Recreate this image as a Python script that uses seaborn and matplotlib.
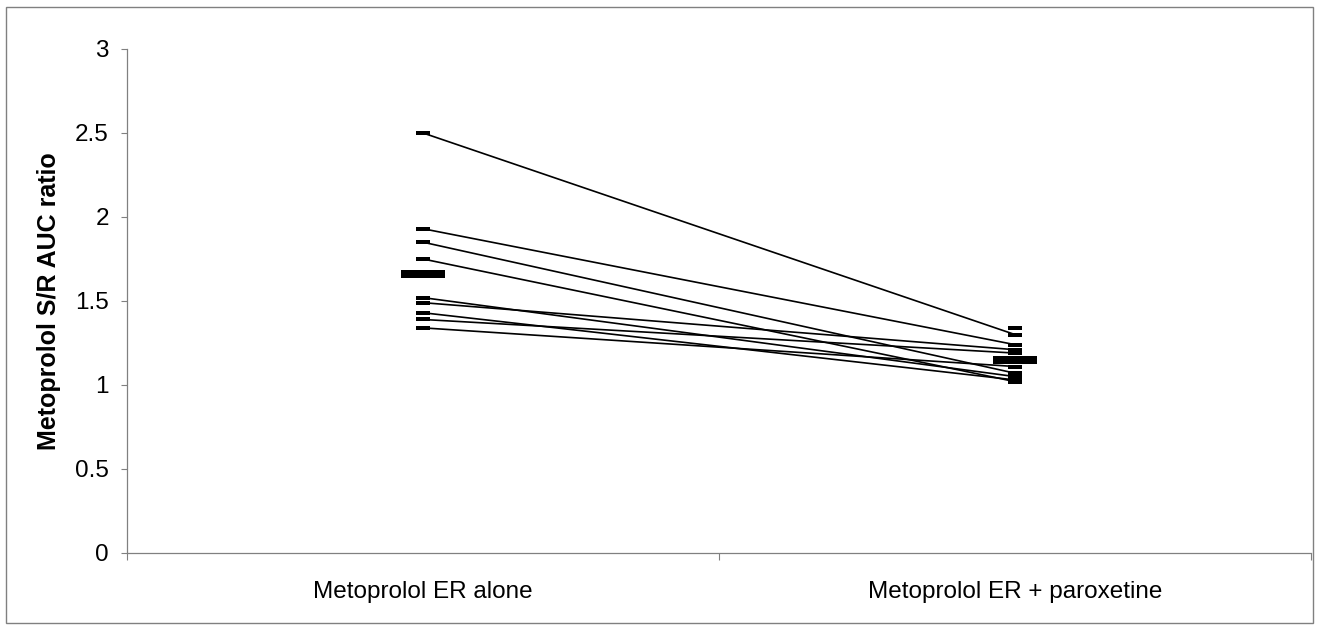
import numpy as np
import pandas as pd
import seaborn as sns
import matplotlib.pyplot as plt
from matplotlib.patches import Rectangle

# Values
groups = ["Metoprolol ER alone", "Metoprolol ER + paroxetine"]
alone = [2.50, 1.93, 1.85, 1.75, 1.52, 1.49, 1.43, 1.39, 1.34, np.nan]
paroxetine = [1.30, 1.24, 1.07, 1.02, 1.05, 1.21, 1.03, 1.19, 1.11, 1.34]
group_means = [1.66, 1.15]
y_ticks = [0, 0.5, 1, 1.5, 2, 2.5, 3]
y_tick_labels = ["0", "0.5", "1", "1.5", "2", "2.5", "3"]


def build_frame():
    n = len(alone)
    df = pd.DataFrame(
        {
            "subject": list(range(n)) * 2,
            "pos": [0] * n + [1] * n,
            "ratio": alone + paroxetine,
        }
    )
    return df.dropna()


def main():
    df = build_frame()
    means = pd.DataFrame({"pos": [0, 1], "ratio": group_means})

    sns.set_style("white")
    plt.rcParams["font.family"] = ["Liberation Sans", "DejaVu Sans"]
    plt.rcParams["text.color"] = "black"
    plt.rcParams["axes.labelcolor"] = "black"
    plt.rcParams["xtick.labelcolor"] = "black"
    plt.rcParams["ytick.labelcolor"] = "black"

    fig = plt.figure(figsize=(13.19, 6.33), dpi=100)
    ax = fig.add_axes([0.0963, 0.1264, 0.8977, 0.7962])

    # paired subject lines
    sns.lineplot(
        data=df, x="pos", y="ratio", units="subject", estimator=None,
        color="black", linewidth=1.2, ax=ax, zorder=2,
    )

    # individual values: small horizontal bars
    small = [(-6.5, -2), (6.5, -2), (6.5, 2), (-6.5, 2)]
    sns.scatterplot(
        data=df, x="pos", y="ratio", marker=small, s=9.4 ** 2,
        color="black", linewidth=0, ax=ax, zorder=3,
    )

    # group means: wide thick bars
    big = [(-22, -4), (22, -4), (22, 4), (-22, 4)]
    sns.scatterplot(
        data=means, x="pos", y="ratio", marker=big, s=31.7 ** 2,
        color="black", linewidth=0, ax=ax, zorder=4,
    )

    ax.set_xlim(-0.5, 1.5)
    ax.set_ylim(0, 3)
    ax.set_yticks(y_ticks)
    ax.set_yticklabels(y_tick_labels, fontsize=17.5)
    ax.set_xticks([-0.5, 0.5, 1.5])
    ax.set_xticklabels([])
    ax.set_xticks([0, 1], minor=True)
    ax.set_xticklabels(groups, minor=True, fontsize=17.5)
    ax.tick_params(axis="x", which="minor", length=0, pad=20)
    ax.tick_params(axis="x", which="major", direction="out", length=5,
                   width=0.8, color="#808080", bottom=True)
    ax.tick_params(axis="y", direction="out", length=4, width=0.8,
                   color="#808080", left=True, pad=9)

    ax.set_xlabel("")
    ax.set_ylabel("Metoprolol S/R AUC ratio", fontsize=18,
                  fontweight="bold", labelpad=10)

    for side in ["top", "right"]:
        ax.spines[side].set_visible(False)
    for side in ["left", "bottom"]:
        ax.spines[side].set_color("#808080")
        ax.spines[side].set_linewidth(0.9)

    # outer chart frame
    fig.patches.append(Rectangle(
        (6 / 1319, 10 / 633), 1307 / 1319, 616 / 633,
        transform=fig.transFigure, fill=False,
        edgecolor="#808080", linewidth=1.0,
    ))

    fig.savefig("out.png", dpi=100)
    plt.close(fig)


if __name__ == "__main__":
    main()
